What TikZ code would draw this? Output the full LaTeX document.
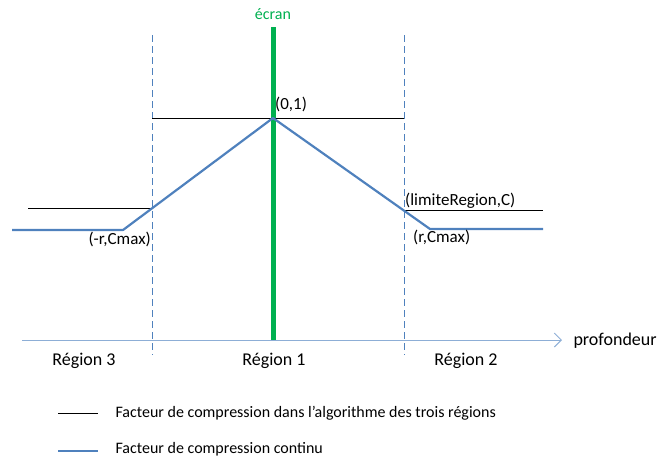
\documentclass[tikz,border=0pt]{standalone}
\usepackage{fontspec}
\setmainfont{Carlito}
\usepackage{tikz}
\usetikzlibrary{arrows.meta}
\definecolor{offblue}{RGB}{79,129,189}
\definecolor{axisblue}{RGB}{141,174,214}
\definecolor{ecrangreen}{RGB}{0,176,80}

\begin{document}
\begin{tikzpicture}[x=1pt,y=-1pt,font=\fontsize{17}{20}\selectfont]
			\useasboundingbox (0,0) rectangle (662,461);
			% axe et limites des regions
			\draw[axisblue,line width=1pt,-{Straight Barb[length=7pt,width=14pt]}] (22,340) -- (562,340);
			\node[anchor=west,font=\fontsize{18}{20}\selectfont] (prof) at (570,341) {profondeur};
			\draw[offblue,dashed,dash pattern=on 7pt off 4pt,line width=0.8pt] (152,35) -- (152,355);
			\draw[offblue,dashed,dash pattern=on 7pt off 4pt,line width=0.8pt] (404,35) -- (404,355);
			\draw[ecrangreen,line width=5pt] (273,27) -- (273,340);
			\node[ecrangreen,font=\fontsize{16}{18}\selectfont] (ecran) at (273,14) {écran};
			% algorithme des trois regions
			\draw[black,line width=1pt] (152,118) -- (404,118);
			\draw[black,line width=1pt] (28,208) -- (152,208);
			\draw[black,line width=1pt] (404,210) -- (543,210);
			% facteur continu
			\coordinate (gauche) at (123,230);
			\coordinate (sommet) at (273,118);
			\coordinate (droite) at (430,229);
			\draw[offblue,line width=2.2pt,line join=round] (12,230) -- (gauche) -- (sommet) -- (droite) -- (543,229);
			\node[anchor=south west,inner sep=1pt] (p01) at (274,113) {(0,1)};
			\node[anchor=south west,inner sep=1pt] (plim) at (404,210) {(limiteRegion,C)};
			\node[anchor=north west,inner sep=1pt] (pr) at (412,229) {(r,Cmax)};
			\node[anchor=north east,inner sep=1pt] (pmr) at (152,231) {(-r,Cmax)};
			\node[font=\fontsize{18}{20}\selectfont] (r3) at (84,361) {Région 3};
			\node[font=\fontsize{18}{20}\selectfont] (r1) at (274,361) {Région 1};
			\node[font=\fontsize{18}{20}\selectfont] (r2) at (466,361) {Région 2};
			% legende
			\draw[black,line width=1pt] (58,413) -- (98,413);
			\node[anchor=west,font=\fontsize{16}{18}\selectfont] (leg1) at (112,413) {Facteur de compression dans l’algorithme des trois régions};
			\draw[offblue,line width=2.2pt] (58,451) -- (98,451);
			\node[anchor=west,font=\fontsize{16}{18}\selectfont] (leg2) at (112,449) {Facteur de compression continu};
		\end{tikzpicture}
\end{document}
